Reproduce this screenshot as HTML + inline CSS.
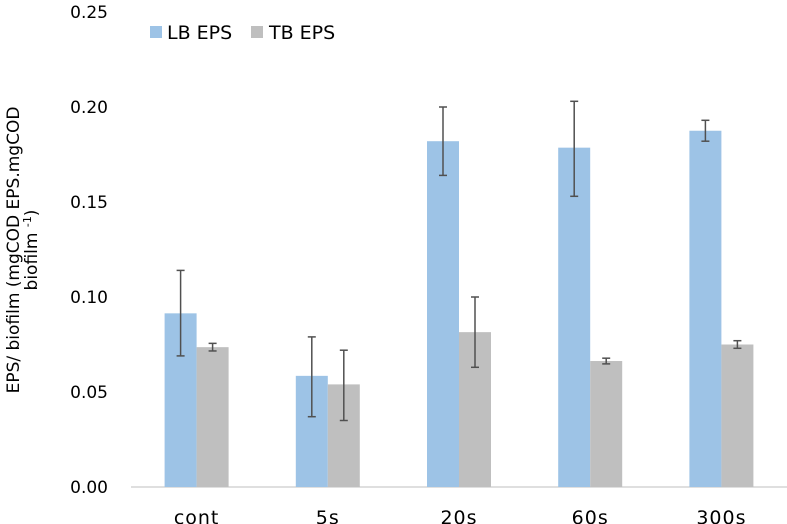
<!DOCTYPE html>
<html><head><meta charset="utf-8"><style>
html,body{margin:0;padding:0;background:#fff;}
svg{display:block;font-family:"DejaVu Sans","Liberation Sans",sans-serif;}
</style></head><body>
<svg id="chart" width="787" height="524" viewBox="0 0 787 524"></svg>
<script>
const categories=["cont","5s","20s","60s","300s"];
const lbValues=[0.0914,0.0585,0.182,0.1786,0.1875];
const lbErrHigh=[0.114,0.079,0.200,0.203,0.193];
const lbErrLow=[0.069,0.037,0.164,0.153,0.182];
const tbValues=[0.0736,0.054,0.0815,0.0663,0.075];
const tbErrHigh=[0.0756,0.072,0.100,0.0678,0.077];
const tbErrLow=[0.0716,0.035,0.063,0.0648,0.073];
const yTicks=[0,0.05,0.10,0.15,0.20,0.25];
const yTickLabels=["0.00","0.05","0.10","0.15","0.20","0.25"];

const NS="http://www.w3.org/2000/svg";
const svg=document.getElementById('chart');
const plotL=131,plotR=787,y0=487,yTop=12;
const y=v=>y0-(v/0.25)*(y0-yTop);
const band=(plotR-plotL)/categories.length;
const xc=i=>plotL+band*(i+0.5);
const barW=32;
function mk(tag,attrs,parent){const e=document.createElementNS(NS,tag);for(const k in attrs)e.setAttribute(k,attrs[k]);(parent||svg).appendChild(e);return e;}

yTicks.forEach((t,i)=>{
  const tx=mk('text',{x:108,y:y(t)+6,'text-anchor':'end','font-size':17,fill:'#000'});
  tx.textContent=yTickLabels[i];
  
  
});
const ax=mk('line',{x1:plotL,x2:plotR,y1:y0,y2:y0,stroke:'#bfbfbf','stroke-width':1});



function errBar(cx,hi,lo){
  const g=mk('g',{stroke:'#505050','stroke-width':1.5});
  
  
  mk('line',{x1:cx,x2:cx,y1:y(hi),y2:y(lo)},g);
  mk('line',{x1:cx-4,x2:cx+4,y1:y(hi),y2:y(hi)},g);
  mk('line',{x1:cx-4,x2:cx+4,y1:y(lo),y2:y(lo)},g);
}
categories.forEach((c,i)=>{
  const cx=xc(i);
  const b1=mk('rect',{x:cx-barW,y:y(lbValues[i]),width:barW,height:y0-y(lbValues[i]),fill:'#9dc3e6'});
  
  
  const b2=mk('rect',{x:cx,y:y(tbValues[i]),width:barW,height:y0-y(tbValues[i]),fill:'#bfbfbf'});
  
  
  errBar(cx-barW/2,lbErrHigh[i],lbErrLow[i]);
  errBar(cx+barW/2,tbErrHigh[i],tbErrLow[i]);
  const t=mk('text',{x:cx,y:y0+37,'text-anchor':'middle','font-size':19,'letter-spacing':1,fill:'#000'});
  t.textContent=c;
  
  
});
</script>
<svg style="position:absolute;left:0;top:0" width="787" height="524">
  <g font-family="DejaVu Sans, Liberation Sans, sans-serif" font-size="19">
    <rect x="150" y="26" width="12" height="12" fill="#9dc3e6"/>
    <text x="167" y="39">LB EPS</text>
    <rect x="251" y="26" width="12" height="12" fill="#bfbfbf"/>
    <text x="269" y="39">TB EPS</text>
  </g>
  <text transform="translate(19,250) rotate(-90)" text-anchor="middle" font-family="DejaVu Sans, Liberation Sans, sans-serif" font-size="17">EPS/ biofilm (mgCOD EPS.mgCOD</text>
  <text transform="translate(37,250) rotate(-90)" text-anchor="middle" font-family="DejaVu Sans, Liberation Sans, sans-serif" font-size="17">biofilm <tspan font-size="11" dy="-6">-1</tspan><tspan dy="6">)</tspan></text>
</svg>
</body></html>
